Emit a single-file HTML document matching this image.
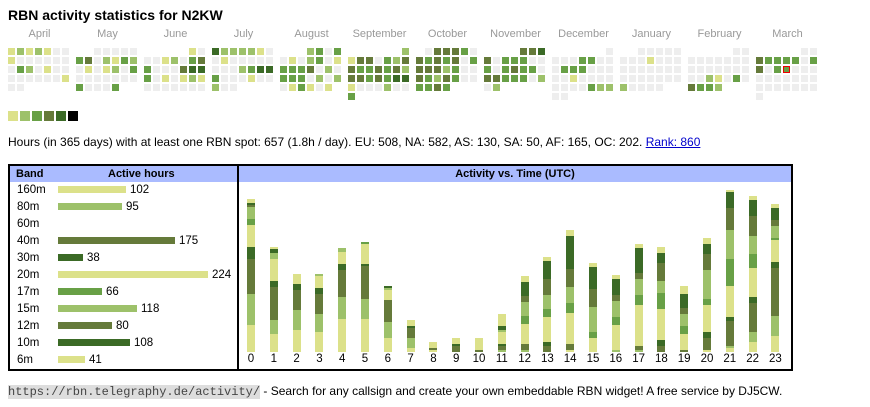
<!DOCTYPE html>
<html><head><meta charset="utf-8"><style>
body{margin:0;width:870px;height:407px;background:#fff;font-family:"Liberation Sans",Arial,sans-serif;position:relative;overflow:hidden}
.a{position:absolute}
.c{position:absolute;width:7px;height:7px}
.m{position:absolute;top:28px;width:63px;text-align:center;color:#999;font-size:11px}
.box{position:absolute;border:2px solid #000;top:164px;height:203px;box-sizing:content-box}
.hd{position:absolute;left:0;right:0;top:0;height:16px;background:#aabbff;font-weight:bold;font-size:11px;line-height:16px}
.rl{position:absolute;font-size:11.5px;left:7px}
.bl{position:absolute;left:48px;height:7px}
.bv{position:absolute;font-size:11.5px}
.xl{position:absolute;top:353px;font-size:11.5px;width:20px;text-align:center}
</style></head><body>
<div class="a" style="left:8px;top:7px;font-size:14px;font-weight:bold">RBN activity statistics for N2KW</div>
<div id="cal"></div>
<div class="a" style="left:8px;top:135px;font-size:12px;white-space:nowrap">Hours (in 365 days) with at least one RBN spot: 657 (1.8h / day). EU: 508, NA: 582, AS: 130, SA: 50, AF: 165, OC: 202. <span style="color:#00c;text-decoration:underline">Rank: 860</span></div>
<div class="box" style="left:8px;width:227px">
<div class="hd"><span style="position:absolute;left:6px">Band</span><span style="position:absolute;left:98px">Active hours</span></div>
<div id="tbl"></div>
</div>
<div class="box" style="left:237px;width:552px">
<div class="hd" style="text-align:center">Activity vs. Time (UTC)</div>
</div>
<div id="ch"></div>
<div class="a" style="left:8px;top:384px;font-size:12px;white-space:nowrap"><span style="font-family:'Liberation Mono',monospace;font-size:12px;background:#ddd;color:#444">https://rbn.telegraphy.de/activity/</span> - Search for any callsign and create your own embeddable RBN widget! A free service by DJ5CW.</div>
<script>
var C=['#eeeeee','#dce18a','#9dc16a','#68a046','#657a3a','#3b6a26'];
var months=['April','May','June','July','August','September','October','November','December','January','February','March'];
var D=[
"1212100|1000000|0320100|0000001|00.....",
"..00000|3402132|0101203|0000000|30003..",
".....10|0012034|3000455|3010121|0000000",
"5222210|0100000|0002355|3000100|200....",
"...2303|0102301|3334020|3330202|013101.",
"......2|1440324|4334342|4434355|1000200|3......",
".044430|4343403|4442300|4324300|3343...",
"....445|4033300|3034330|4433302|02.....",
"......0|0003300|0333000|0010000|0000322|00.....",
"..00000|0001000|0000000|0000000|20000..",
".....00|0000000|0000000|0021030|4332...",
".....00|4333303|4033000|0000000|0000000|0......"];
var h='';
for(var m=0;m<12;m++){var x0=8+68*m;h+='<div class="m" style="left:'+x0+'px">'+months[m]+'</div>';
var rows=D[m].split('|');for(var r=0;r<rows.length;r++)for(var c=0;c<7;c++){var ch=rows[r][c];if(ch&&ch!='.'){var st='';if(m==11&&r==2&&c==3)st='outline:1px solid #e00;outline-offset:-1px;';h+='<div class="c" style="'+st+'left:'+(x0+9*c)+'px;top:'+(48+9*r)+'px;background:'+C[+ch]+'"></div>';}}}
for(var i=0;i<6;i++)h+='<div class="a" style="left:'+(8+12*i)+'px;top:111px;width:10px;height:10px;background:'+(i<5?C[i+1]:'#000')+'"></div>';
document.getElementById('cal').innerHTML=h;
var B=[['160m',102,1],['80m',95,2],['60m',0,0],['40m',175,4],['30m',38,5],['20m',224,1],['17m',66,3],['15m',118,2],['12m',80,4],['10m',108,5],['6m',41,1]];
h='';for(i=0;i<B.length;i++){var y=17+17*i;h+='<div class="rl" style="top:'+(y+1)+'px">'+B[i][0]+'</div>';
if(B[i][1]){var w=Math.round(B[i][1]*0.67);h+='<div class="bl" style="top:'+(y+3)+'px;width:'+w+'px;background:'+C[B[i][2]]+'"></div><div class="bv" style="top:'+(y+1)+'px;left:'+(48+w+4)+'px">'+B[i][1]+'</div>';}}
document.getElementById('tbl').innerHTML=h;
var S=[
[[495,1],[402,2],[297,4],[261,5],[195,1],[177,3],[141,2],[135,4],[129,5],[117,1]],
[[522,1],[480,2],[381,4],[363,5],[297,1],[279,2],[267,5],[261,1]],
[[510,1],[450,2],[390,4],[372,5],[342,1]],
[[516,1],[462,2],[402,4],[384,5],[348,1],[342,2]],
[[477,1],[411,2],[330,4],[312,5],[276,1],[264,2]],
[[477,1],[417,2],[318,4],[312,5],[252,1],[246,3]],
[[534,1],[486,2],[420,4],[390,1],[384,2],[378,5]],
[[564,1],[534,2],[504,4],[498,5],[480,1]],
[[570,1],[564,4],[546,1]],
[[558,4],[552,5],[534,1]],
[[570,4],[534,1]],
[[570,2],[558,4],[552,5],[516,1],[510,2],[498,5],[462,1]],
[[570,2],[552,4],[492,1],[468,3],[426,2],[408,4],[366,5],[348,1]],
[[558,4],[546,5],[471,1],[447,3],[405,2],[357,4],[303,5],[291,1]],
[[570,1],[552,4],[459,1],[429,3],[381,2],[327,4],[228,5],[210,1]],
[[534,1],[516,3],[441,2],[387,4],[321,5],[309,1]],
[[570,2],[495,1],[471,3],[423,2],[405,4],[357,5],[345,1]],
[[570,2],[558,4],[435,1],[405,3],[357,2],[339,4],[264,5],[252,1]],
[[558,4],[540,5],[447,1],[399,3],[363,2],[309,4],[279,5],[261,1]],
[[570,4],[522,1],[498,3],[462,2],[444,4],[402,5],[378,1]],
[[570,1],[534,4],[516,5],[435,1],[417,3],[330,2],[282,4],[252,5],[234,1]],
[[564,1],[558,2],[483,4],[471,5],[378,1],[297,3],[210,2],[144,4],[96,5],[90,1]],
[[546,1],[516,2],[429,4],[411,5],[324,1],[282,3],[228,2],[168,4],[120,5],[108,1]],
[[528,1],[468,2],[324,4],[306,5],[240,1],[234,3],[198,2],[180,4],[144,5],[132,1]]];
h='';for(var k=0;k<24;k++){var x=247+22.8*k,prev=576;for(var j=0;j<S[k].length;j++){var t=S[k][j][0];h+='<div class="a" style="left:'+x+'px;width:8px;top:'+(160+t/3)+'px;height:'+((prev-t)/3)+'px;background:'+C[S[k][j][1]]+'"></div>';prev=t;}
h+='<div class="xl" style="left:'+(x-6)+'px">'+k+'</div>';}
document.getElementById('ch').innerHTML=h;
</script>
</body></html>
